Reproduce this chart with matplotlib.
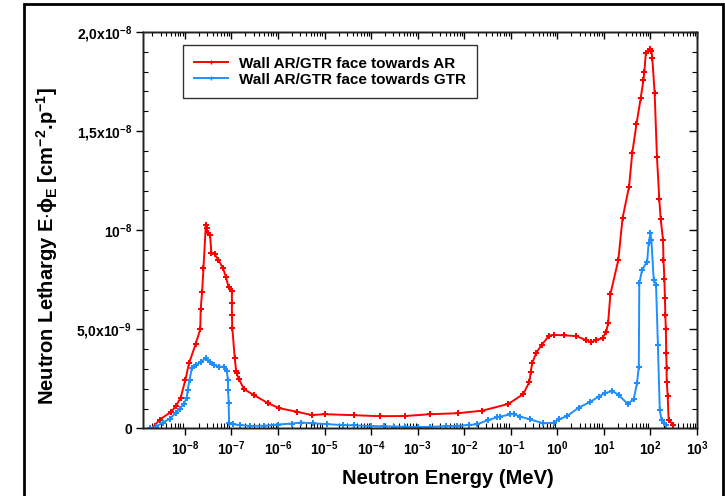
import numpy as np
import matplotlib
matplotlib.use("Agg")
from matplotlib import pyplot as plt
from matplotlib.ticker import FixedLocator, FixedFormatter, LogLocator, NullFormatter
from matplotlib.patches import Rectangle

plt.rcParams['font.family'] = ['Liberation Sans', 'DejaVu Sans']
plt.rcParams['font.weight'] = 'bold'
plt.rcParams['mathtext.fontset'] = 'custom'
plt.rcParams['mathtext.rm'] = 'Liberation Sans:bold'
plt.rcParams['mathtext.it'] = 'Liberation Sans:bold'
plt.rcParams['mathtext.bf'] = 'Liberation Sans:bold'

# datos: log10(E / MeV) y flujo en unidades de 1e-9
log_e_ar = [-8.65, -8.54, -8.29, -8.19, -8.09, -7.99, -7.91, -7.77, -7.67, -7.66,
            -7.63, -7.60, -7.55, -7.53, -7.51, -7.46, -7.43, -7.36, -7.28, -7.18,
            -7.12, -7.06, -6.99, -6.99, -6.99, -6.98, -6.93, -6.90, -6.89, -6.84,
            -6.73, -6.52, -6.21, -5.97, -5.60, -5.28, -4.99, -4.36, -3.81, -3.27,
            -2.73, -2.14, -1.61, -1.05, -0.73, -0.60, -0.57, -0.54, -0.46, -0.34,
            -0.18, -0.08, 0.15, 0.41, 0.61, 0.73, 0.82, 0.97, 1.05, 1.09,
            1.14, 1.31, 1.40, 1.54, 1.61, 1.70, 1.79, 1.85, 1.87, 1.90,
            1.99, 2.02, 2.04, 2.09, 2.14, 2.19, 2.22, 2.27, 2.28, 2.30,
            2.31, 2.32, 2.33, 2.34, 2.345, 2.35, 2.37, 2.39, 2.49]
flux_ar = [0.15, 0.45, 0.85, 1.15, 1.55, 2.45, 3.30, 4.25, 5.00, 6.03,
           6.88, 8.11, 10.27, 10.10, 9.85, 9.76, 8.87, 8.79, 8.50, 8.08,
           7.66, 7.12, 6.95, 6.32, 5.73, 5.05, 3.57, 2.92, 2.78, 2.50,
           1.98, 1.69, 1.27, 1.02, 0.85, 0.68, 0.72, 0.67, 0.62, 0.63,
           0.72, 0.77, 0.90, 1.24, 1.74, 2.36, 2.87, 3.29, 3.79, 4.21,
           4.67, 4.72, 4.70, 4.66, 4.46, 4.35, 4.46, 4.55, 4.88, 5.31,
           6.78, 8.50, 10.60, 12.20, 13.91, 15.36, 16.66, 17.58, 18.00, 18.93,
           19.14, 19.06, 18.67, 16.91, 13.68, 11.56, 10.55, 9.51, 8.50, 7.53,
           6.57, 5.73, 5.00, 3.82, 3.04, 2.36, 1.64, 0.43, 0.18]

log_e_gtr = [-8.75, -8.62, -8.47, -8.32, -8.19, -8.11, -8.02, -7.96, -7.94, -7.90,
             -7.85, -7.77, -7.66, -7.55, -7.46, -7.38, -7.27, -7.16, -7.10, -7.075,
             -7.07, -7.06, -7.05, -6.97, -6.82, -6.60, -6.30, -6.00, -5.70, -5.50,
             -5.24, -4.95, -4.60, -4.36, -4.00, -3.73, -3.50, -3.27, -3.00, -2.73,
             -2.40, -2.16, -1.90, -1.73, -1.48, -1.30, -1.23, -1.01, -0.94, -0.80,
             -0.58, -0.30, -0.08, 0.03, 0.21, 0.46, 0.71, 0.89, 1.02, 1.18,
             1.32, 1.51, 1.64, 1.71, 1.75, 1.76, 1.82, 1.93, 1.96, 2.00,
             2.02, 2.07, 2.12, 2.16, 2.20, 2.24, 2.29, 2.34]
flux_gtr = [0.00, 0.10, 0.30, 0.50, 0.80, 1.00, 1.25, 1.55, 1.95, 2.45,
            3.05, 3.20, 3.35, 3.55, 3.35, 3.20, 3.12, 3.12, 2.90, 2.45,
            1.95, 1.27, 0.26, 0.21, 0.18, 0.13, 0.14, 0.20, 0.25, 0.30,
            0.26, 0.22, 0.17, 0.16, 0.12, 0.11, 0.10, 0.09, 0.08, 0.08,
            0.12, 0.13, 0.18, 0.21, 0.43, 0.56, 0.60, 0.71, 0.73, 0.60,
            0.46, 0.26, 0.29, 0.46, 0.63, 1.05, 1.35, 1.61, 1.78, 1.89,
            1.69, 1.24, 1.47, 2.28, 3.12, 7.32, 8.00, 8.42, 9.34, 9.85,
            9.51, 7.50, 7.24, 4.20, 0.93, 0.43, 0.26, 0.18]

etiquetas = ["Wall AR/GTR face towards AR", "Wall AR/GTR face towards GTR"]
y_ticks = [0, 5e-9, 1e-8, 1.5e-8, 2e-8]
y_labels = ["0", r"5,0x10$^{-9}$", r"10$^{-8}$", r"1,5x10$^{-8}$", r"2,0x10$^{-8}$"]
x_decadas = [-8, -7, -6, -5, -4, -3, -2, -1, 0, 1, 2, 3]

rojo = "#ff0000"
azul = "#1f8fff"

fig = plt.figure(figsize=(7.25, 4.96), dpi=100)
ax = fig.add_axes([0.1972, 0.1361, 0.7642, 0.7994])

E_ar = 10.0 ** np.array(log_e_ar)
E_gtr = 10.0 ** np.array(log_e_gtr)
ax.plot(E_ar, np.array(flux_ar) * 1e-9, color=rojo, lw=1.4, marker="P", ms=4.8,
        mew=0, label=etiquetas[0])
ax.plot(E_gtr, np.array(flux_gtr) * 1e-9, color=azul, lw=1.4, marker="P", ms=4.8,
        mew=0, label=etiquetas[1])

ax.set_xscale("log")
xlim = (10 ** -8.9, 1e3)
ylim = (0, 2e-8)
ax.set_xlim(xlim)
ax.set_ylim(ylim)

ax.xaxis.set_major_locator(FixedLocator([10.0 ** d for d in x_decadas]))
ax.xaxis.set_major_formatter(FixedFormatter([r"10$^{%d}$" % d for d in x_decadas]))
ax.xaxis.set_minor_locator(LogLocator(base=10, subs=np.arange(2, 10), numticks=30))
ax.xaxis.set_minor_formatter(NullFormatter())
ax.yaxis.set_major_locator(FixedLocator(y_ticks))
ax.yaxis.set_major_formatter(FixedFormatter(y_labels))
ax.yaxis.set_minor_locator(FixedLocator(np.arange(0, 2.01e-8, 1e-9)))

ax.tick_params(which="major", direction="out", length=5, width=1, labelsize=10, pad=3)
ax.tick_params(which="minor", direction="in", length=3.5, width=0.8)
ax.tick_params(axis="x", which="major", pad=3)
ax.tick_params(top=False, right=False, which="both")

# ejes auxiliares para las marcas interiores de arriba y derecha
ax_r = ax.twinx()
ax_r.set_ylim(ylim)
ax_r.yaxis.set_major_locator(FixedLocator(y_ticks))
ax_r.yaxis.set_minor_locator(FixedLocator(np.arange(0, 2.01e-8, 1e-9)))
ax_r.tick_params(which="major", direction="in", length=6, width=1, labelright=False)
ax_r.tick_params(which="minor", direction="in", length=3.5, width=0.8)

ax_t = ax.twiny()
ax_t.set_xscale("log")
ax_t.set_xlim(xlim)
ax_t.xaxis.set_major_locator(FixedLocator([10.0 ** d for d in x_decadas]))
ax_t.xaxis.set_minor_locator(LogLocator(base=10, subs=np.arange(2, 10), numticks=30))
ax_t.tick_params(which="major", direction="in", length=5, width=1, labeltop=False)
ax_t.tick_params(which="minor", direction="in", length=3, width=0.8, labeltop=False)

for a in (ax, ax_r, ax_t):
    for s in a.spines.values():
        s.set_linewidth(1.0)
        s.set_color("#222222")

ax.set_xlabel("Neutron Energy (MeV)", fontsize=14.5, fontweight="bold")
ax.xaxis.set_label_coords(0.5505, -0.103)
ax.set_ylabel(r"Neutron Lethargy E$\cdot\phi_{E}$ [cm$^{-2}$.p$^{-1}$]", fontsize=14.5,
              fontweight="bold")
ax.yaxis.set_label_coords(-0.150, 0.46)

leg = ax.legend(loc="upper left", bbox_to_anchor=(0.072, 0.967), borderaxespad=0,
                fontsize=11, frameon=True, fancybox=False, handlelength=2.2,
                handletextpad=0.7, borderpad=0.75, labelspacing=0.15, markerscale=0.6)
leg.get_frame().set_edgecolor("black")
leg.get_frame().set_linewidth(1.0)

# marco exterior de la figura
fig.patches.append(Rectangle((0.033, -0.2), 0.964, 1.192, transform=fig.transFigure,
                             fill=False, edgecolor="black", lw=2, clip_on=False))

fig.savefig("out.png", dpi=100)
